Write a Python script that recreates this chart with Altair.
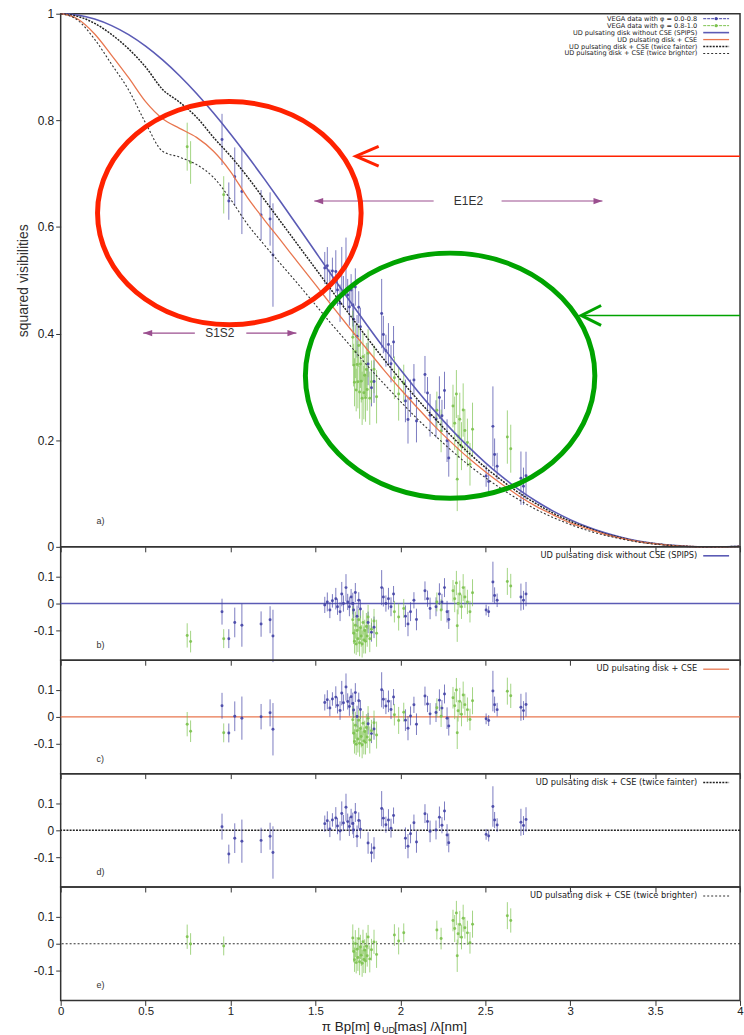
import altair as alt
import numpy as np
import pandas as pd

FONT = "Liberation Sans"
LFONT = "DejaVu Sans"
BLUE_PTS = "#4444a6"
GREEN_PTS = "#7cc24e"
UD_COL = "#5b5bb5"
CSE_COL = "#e8764f"
BLACK = "#222222"
RED_ANN = "#ff2200"
GREEN_ANN = "#00a300"
MAG = "#9b4f8f"

W = 683
H_MAIN = 536
H_RES = 114

# ---------------- model curves ----------------
grid_x = [0.0, 0.1, 0.2, 0.3, 0.4, 0.5, 0.6, 0.7, 0.8, 0.9, 1.0, 1.1, 1.2, 1.3, 1.4,
          1.5, 1.6, 1.7, 1.8, 1.9, 2.0, 2.1, 2.2, 2.3, 2.4, 2.5, 2.6, 2.7, 2.8, 2.9,
          3.0, 3.1, 3.2, 3.3, 3.4, 3.5, 3.6, 3.7, 3.8, 3.9, 4.0]
ud = [1.0, 0.9975, 0.9900, 0.9777, 0.9607, 0.9391, 0.9133, 0.8836, 0.8503, 0.8138,
      0.7746, 0.7330, 0.6897, 0.6450, 0.5994, 0.5534, 0.5075, 0.4620, 0.4175, 0.3742,
      0.3326, 0.2929, 0.2555, 0.2204, 0.1879, 0.1581, 0.1312, 0.1070, 0.0856, 0.0670,
      0.0511, 0.0377, 0.0267, 0.0179, 0.0111, 0.0062, 0.0028, 0.0008, 0.0000, 0.0002, 0.0011]
cse = [1.0, 0.990, 0.962, 0.922, 0.880, 0.835, 0.803, 0.785, 0.768, 0.742,
       0.704, 0.655, 0.613, 0.573, 0.532, 0.492, 0.451, 0.411, 0.372, 0.333,
       0.296, 0.261, 0.227, 0.196, 0.167, 0.141, 0.117, 0.095, 0.076, 0.060,
       0.045, 0.034, 0.024, 0.016, 0.010, 0.0055, 0.0025, 0.0007, 0.0, 0.0002, 0.001]
faint = [1.0, 0.995, 0.982, 0.961, 0.934, 0.900, 0.858, 0.834, 0.806, 0.768,
         0.733, 0.694, 0.651, 0.608, 0.565, 0.522, 0.479, 0.436, 0.394, 0.353,
         0.314, 0.277, 0.242, 0.208, 0.177, 0.149, 0.124, 0.101, 0.081, 0.063,
         0.048, 0.036, 0.025, 0.017, 0.010, 0.006, 0.0026, 0.0008, 0.0, 0.0002, 0.001]
bright = [1.0, 0.988, 0.952, 0.905, 0.857, 0.795, 0.742, 0.731, 0.717, 0.693,
          0.652, 0.605, 0.566, 0.529, 0.492, 0.454, 0.416, 0.379, 0.342, 0.307,
          0.273, 0.240, 0.210, 0.181, 0.154, 0.130, 0.108, 0.088, 0.070, 0.055,
          0.042, 0.031, 0.022, 0.015, 0.009, 0.005, 0.0023, 0.0007, 0.0, 0.0002, 0.001]

# ---------------- VEGA data: frequency, residual vs SPIPS model (panel b), error ----------------
blue_x = [0.95, 0.99, 1.025, 1.067, 1.18, 1.233, 1.25, 1.555, 1.57, 1.585, 1.60, 1.62, 1.63,
          1.645, 1.655, 1.665, 1.68, 1.69, 1.70, 1.71, 1.72, 1.725, 1.735, 1.745, 1.755, 1.765,
          1.81, 1.83, 1.845, 1.89, 1.90, 1.915, 1.93, 1.945, 1.96, 2.03, 2.045, 2.06, 2.08,
          2.095, 2.145, 2.16, 2.175, 2.21, 2.23, 2.245, 2.26, 2.275, 2.285, 2.505, 2.52, 2.545,
          2.555, 2.57, 2.71, 2.725, 2.74]
blue_res = [-0.03, -0.13, -0.07, -0.08, -0.076, -0.06, -0.12, -0.005, 0.006, -0.024, 0.01,
            0.018, -0.012, -0.03, 0.035, 0.0, 0.059, 0.006, -0.012, 0.024, 0.0, -0.024, 0.041,
            -0.047, 0.012, -0.02, -0.07, -0.106, -0.088, 0.059, 0.024, 0.0, 0.018, -0.012,
            0.035, -0.047, -0.076, -0.03, 0.012, -0.059, 0.047, 0.018, -0.018, -0.012, 0.035,
            0.006, 0.059, -0.03, -0.059, -0.024, -0.03, 0.08, 0.03, 0.012, 0.024, 0.012, 0.035]
blue_err = [0.048, 0.035, 0.055, 0.08, 0.047, 0.05, 0.097, 0.03, 0.035, 0.03, 0.025, 0.04,
            0.03, 0.035, 0.045, 0.03, 0.05, 0.03, 0.035, 0.03, 0.04, 0.03, 0.035, 0.04, 0.03,
            0.035, 0.04, 0.035, 0.04, 0.065, 0.035, 0.03, 0.04, 0.035, 0.03, 0.04, 0.045,
            0.035, 0.03, 0.04, 0.035, 0.03, 0.04, 0.035, 0.04, 0.03, 0.035, 0.04, 0.035, 0.02,
            0.02, 0.075, 0.03, 0.025, 0.05, 0.035, 0.045]

green_x = [0.745, 0.765, 0.96, 1.72, 1.725, 1.73, 1.735, 1.74, 1.745, 1.75, 1.755, 1.76,
           1.765, 1.77, 1.775, 1.78, 1.785, 1.79, 1.795, 1.80, 1.805, 1.81, 1.82, 1.83, 1.845,
           1.86, 1.965, 1.99, 2.02, 2.215, 2.24, 2.31, 2.32, 2.33, 2.335, 2.34, 2.35, 2.36,
           2.37, 2.38, 2.395, 2.41, 2.425, 2.63, 2.65]
green_res = [-0.118, -0.141, -0.13, -0.06, -0.11, -0.14, -0.08, -0.15, -0.10, -0.13, -0.06,
             -0.145, -0.09, -0.12, -0.15, -0.07, -0.135, -0.10, -0.14, -0.085, -0.12, -0.05,
             -0.13, -0.095, -0.065, -0.11, -0.03, -0.05, -0.018, 0.006, -0.024, 0.047, 0.018,
             0.076, -0.082, 0.0, 0.035, -0.012, 0.059, 0.024, 0.006, -0.03, 0.04, 0.082, 0.065]
green_err = [0.045, 0.04, 0.035,
             0.05, 0.04, 0.045, 0.05, 0.04, 0.045, 0.05, 0.04, 0.05, 0.045, 0.04, 0.05, 0.045,
             0.05, 0.04, 0.045, 0.05, 0.04, 0.045, 0.05, 0.04, 0.045, 0.05,
             0.04, 0.05, 0.035, 0.035, 0.04,
             0.04, 0.05, 0.045, 0.06, 0.04, 0.05, 0.045, 0.05, 0.04, 0.045, 0.04, 0.05,
             0.05, 0.045]

x_ticks = [0, 0.5, 1, 1.5, 2, 2.5, 3, 3.5, 4]
y_ticks_main = [0, 0.2, 0.4, 0.6, 0.8, 1.0]
y_ticks_res = [-0.1, 0, 0.1]

legend_main = ["VEGA data with \u03c6 = 0.0-0.8", "VEGA data with \u03c6 = 0.8-1.0",
               "UD pulsating disk without CSE (SPIPS)", "UD pulsating disk + CSE",
               "UD pulsating disk + CSE (twice fainter)", "UD pulsating disk + CSE (twice brighter)"]

# ---------------- derived tables ----------------
gxa = np.array(grid_x)


def at(xs, m):
    return np.interp(np.asarray(xs, dtype=float), gxa, np.asarray(m, dtype=float))


blue_v2 = at(blue_x, ud) + np.array(blue_res)
green_v2 = at(green_x, ud) + np.array(green_res)
data = pd.DataFrame({
    "x": np.concatenate([blue_x, green_x]),
    "v2": np.concatenate([blue_v2, green_v2]),
    "err": np.concatenate([blue_err, green_err]),
    "grp": ["a"] * len(blue_x) + ["b"] * len(green_x),
})
data["lo"] = data.v2 - data.err
data["hi"] = data.v2 + data.err
models = pd.DataFrame({"x": grid_x, "ud": ud, "cse": cse, "faint": faint, "bright": bright})

XS = alt.Scale(domain=[0, 4], nice=False, zero=False)
YS_MAIN = alt.Scale(domain=[0, 1], nice=False, zero=False)
YS_RES = alt.Scale(domain=[-0.21, 0.21], nice=False, zero=False)
COL = alt.Color("grp:N", scale=alt.Scale(domain=["a", "b"], range=[BLUE_PTS, GREEN_PTS]), legend=None)

STY = {
    "ud": dict(color=UD_COL, strokeWidth=1.6),
    "cse": dict(color=CSE_COL, strokeWidth=1.3),
    "faint": dict(color=BLACK, strokeWidth=1.5, strokeDash=[2, 1.2]),
    "bright": dict(color="#333333", strokeWidth=1.1, strokeDash=[2, 2]),
}


def xenc(field, labels=False):
    return alt.X(f"{field}:Q", scale=XS, title=None,
                 axis=alt.Axis(values=x_ticks, labels=labels, tickSize=5, domain=False, grid=False,
                               format="~g", labelFlush=False, labelFontSize=11.5, labelPadding=0,
                               tickColor="#333", labelColor="#222", labelOverlap=False))


Y_MAIN_AX = alt.Axis(values=y_ticks_main, format=".1~f", tickSize=5, domain=False, grid=False,
                     labelFontSize=12, labelPadding=2, titleFontSize=14, titleFontWeight="normal",
                     titlePadding=7, titleColor="#333", labelColor="#222", tickColor="#333")
Y_RES_AX = alt.Axis(values=y_ticks_res, tickSize=5, domain=False, grid=False, labelFontSize=12,
                    labelPadding=2, labelColor="#222", tickColor="#333",
                    labelExpr="datum.value < 0 ? '-' + format(-datum.value, '.1~f') : format(datum.value, '.1~f')")


def ymain(field):
    return alt.Y(f"{field}:Q", scale=YS_MAIN, axis=Y_MAIN_AX, title="squared visibilities")


def yres(field):
    return alt.Y(f"{field}:Q", scale=YS_RES, axis=Y_RES_AX, title=None)


def one():
    return pd.DataFrame({"k": [0]})


def legend_row(label, yy, style, kind, fs):
    layers = [alt.Chart(pd.DataFrame({"t": [label]})).mark_text(
        align="right", baseline="middle", fontSize=fs, font=LFONT, color="#222").encode(
        x=alt.value(640), y=alt.value(yy), text="t:N")]
    if kind == "data":
        layers.append(alt.Chart(one()).mark_rule(color=style, strokeWidth=1, strokeDash=[3, 1]).encode(
            x=alt.value(646), x2=alt.value(672), y=alt.value(yy)))
        layers.append(alt.Chart(one()).mark_point(filled=True, size=10, color=style, opacity=1).encode(
            x=alt.value(659), y=alt.value(yy)))
    else:
        layers.append(alt.Chart(one()).mark_rule(**STY[style]).encode(
            x=alt.value(646), x2=alt.value(672), y=alt.value(yy)))
    return layers


def panel_letter(letter, yy):
    return alt.Chart(pd.DataFrame({"t": [letter]})).mark_text(
        align="left", baseline="middle", fontSize=9, font=FONT, color="#333").encode(
        x=alt.value(36), y=alt.value(yy), text="t:N")


# ---------------- main panel ----------------
bars = alt.Chart(data).mark_rule(strokeWidth=1, opacity=0.7).encode(
    x=xenc("x"), y=ymain("lo"), y2="hi:Q", color=COL)
pts = alt.Chart(data).mark_point(filled=True, size=9, opacity=0.9).encode(
    x=xenc("x"), y=ymain("v2"), color=COL)
lines = [alt.Chart(models).mark_line(interpolate="monotone", **STY[m]).encode(x=xenc("x"), y=ymain(m))
         for m in ["ud", "faint", "cse", "bright"]]

ELL = ("M1,0 C1,0.468 0.552,0.847 0,0.847 C-0.552,0.847 -1,0.468 -1,0 "
       "C-1,-0.468 -0.552,-0.847 0,-0.847 C0.552,-0.847 1,-0.468 1,0 Z")
red_ell = alt.Chart(pd.DataFrame({"x": [0.993], "y": [0.626]})).mark_point(
    shape=ELL, size=70225, filled=False, stroke=RED_ANN, strokeWidth=5, opacity=1).encode(
    x=xenc("x"), y=ymain("y"))
green_ell = alt.Chart(pd.DataFrame({"x": [2.293], "y": [0.321]})).mark_point(
    shape=ELL, size=84681, filled=False, stroke=GREEN_ANN, strokeWidth=5, opacity=1).encode(
    x=xenc("x"), y=ymain("y"))

red_arrow = alt.Chart(pd.DataFrame({"x": [1.7376], "x2": [4.0], "y": [0.7327]})).mark_rule(
    color=RED_ANN, strokeWidth=1.5).encode(x=xenc("x"), x2="x2:Q", y=ymain("y"))
red_head = alt.Chart(pd.DataFrame({"x": [1.7376], "y": [0.7327]})).mark_point(
    shape="M1,-0.435 L0,0 L1,0.435", size=2116, filled=False, stroke=RED_ANN, strokeWidth=3,
    opacity=1).encode(x=xenc("x"), y=ymain("y"))
green_arrow = alt.Chart(pd.DataFrame({"x": [3.065], "x2": [4.0], "y": [0.4341]})).mark_rule(
    color=GREEN_ANN, strokeWidth=1.5).encode(x=xenc("x"), x2="x2:Q", y=ymain("y"))
green_head = alt.Chart(pd.DataFrame({"x": [3.065], "y": [0.4341]})).mark_point(
    shape="M1,-0.5 L0,0 L1,0.5", size=1600, filled=False, stroke=GREEN_ANN, strokeWidth=3,
    opacity=1).encode(x=xenc("x"), y=ymain("y"))

base_names = ["S1S2", "E1E2"]
base_y = [0.401, 0.6487]
base_left = [0.486, 1.493]
base_gap_l = [0.79, 2.196]
base_mid = [0.937, 2.401]
base_gap_r = [1.093, 2.596]
base_right = [1.388, 3.19]

seg = pd.DataFrame({"x": base_left + base_gap_r, "x2": base_gap_l + base_right, "y": base_y + base_y})
base_lines = alt.Chart(seg).mark_rule(color=MAG, strokeWidth=1.2).encode(
    x=xenc("x"), x2="x2:Q", y=ymain("y"))
head_l = alt.Chart(pd.DataFrame({"x": base_left, "y": base_y})).mark_point(
    shape="M0,0 L1,-0.35 L1,0.35 Z", size=324, filled=True, color=MAG, opacity=1).encode(
    x=xenc("x"), y=ymain("y"))
head_r = alt.Chart(pd.DataFrame({"x": base_right, "y": base_y})).mark_point(
    shape="M0,0 L-1,-0.35 L-1,0.35 Z", size=324, filled=True, color=MAG, opacity=1).encode(
    x=xenc("x"), y=ymain("y"))
base_text = alt.Chart(pd.DataFrame({"x": base_mid, "y": base_y, "t": base_names})).mark_text(
    fontSize=12, font=FONT, color="#333", baseline="middle").encode(
    x=xenc("x"), y=ymain("y"), text="t:N")

leg = []
leg_styles = [(BLUE_PTS, "data"), (GREEN_PTS, "data"), ("ud", "line"), ("cse", "line"),
              ("faint", "line"), ("bright", "line")]
for i, (lab, (sty, kind)) in enumerate(zip(legend_main, leg_styles)):
    leg += legend_row(lab, 5 + 7 * i, sty, kind, 6.6)

main = alt.layer(bars, pts, *lines, base_lines, head_l, head_r, base_text,
                 red_ell, green_ell, red_arrow, red_head, green_arrow, green_head,
                 *leg, panel_letter("a)", 510)).properties(width=W, height=H_MAIN)


# ---------------- residual panels ----------------
def resid_panel(mkey, groups, legend_label, letter, bottom):
    d = data[data.grp.isin(groups)].copy()
    d["r"] = d.v2 - at(d.x, models[mkey])
    d["rlo"] = d.r - d.err
    d["rhi"] = d.r + d.err
    zero = alt.Chart(pd.DataFrame({"y": [0.0]})).mark_rule(**STY[mkey]).encode(y=yres("y"))
    b = alt.Chart(d).mark_rule(strokeWidth=1, opacity=0.7).encode(
        x=xenc("x", bottom), y=yres("rlo"), y2="rhi:Q", color=COL)
    p = alt.Chart(d).mark_point(filled=True, size=9, opacity=0.9).encode(
        x=xenc("x", bottom), y=yres("r"), color=COL)
    layers = [zero, b, p] + legend_row(legend_label, 9, mkey, "line", 8.3) + [panel_letter(letter, 99)]
    if bottom:
        layers.append(alt.Chart(pd.DataFrame({"t": ["\u03c0 Bp[m] \u03b8"]})).mark_text(
            align="right", baseline="alphabetic", fontSize=13.5, font=FONT, color="#222").encode(
            x=alt.value(322), y=alt.value(145), text="t:N"))
        layers.append(alt.Chart(pd.DataFrame({"t": ["UD"]})).mark_text(
            align="left", baseline="alphabetic", fontSize=9, font=FONT, color="#222").encode(
            x=alt.value(323), y=alt.value(147), text="t:N"))
        layers.append(alt.Chart(pd.DataFrame({"t": ["[mas] /\u03bb[nm]"]})).mark_text(
            align="left", baseline="alphabetic", fontSize=13.5, font=FONT, color="#222").encode(
            x=alt.value(335), y=alt.value(145), text="t:N"))
    return alt.layer(*layers).properties(width=W, height=H_RES)


pb = resid_panel("ud", ["a", "b"], "UD pulsating disk without CSE (SPIPS)", "b)", False)
pc = resid_panel("cse", ["a", "b"], "UD pulsating disk + CSE", "c)", False)
pdd = resid_panel("faint", ["a"], "UD pulsating disk + CSE (twice fainter)", "d)", False)
pe = resid_panel("bright", ["b"], "UD pulsating disk + CSE (twice brighter)", "e)", True)

chart = alt.vconcat(main, pb, pc, pdd, pe, spacing=0, bounds="flush").properties(
    padding={"left": 15, "top": 4, "right": 0, "bottom": 0}, background="white"
).configure_view(stroke="#333", strokeWidth=1.5).configure_axis(labelFont=FONT, titleFont=FONT)

chart.save("out.html", embed_options={"renderer": "svg", "actions": False})
